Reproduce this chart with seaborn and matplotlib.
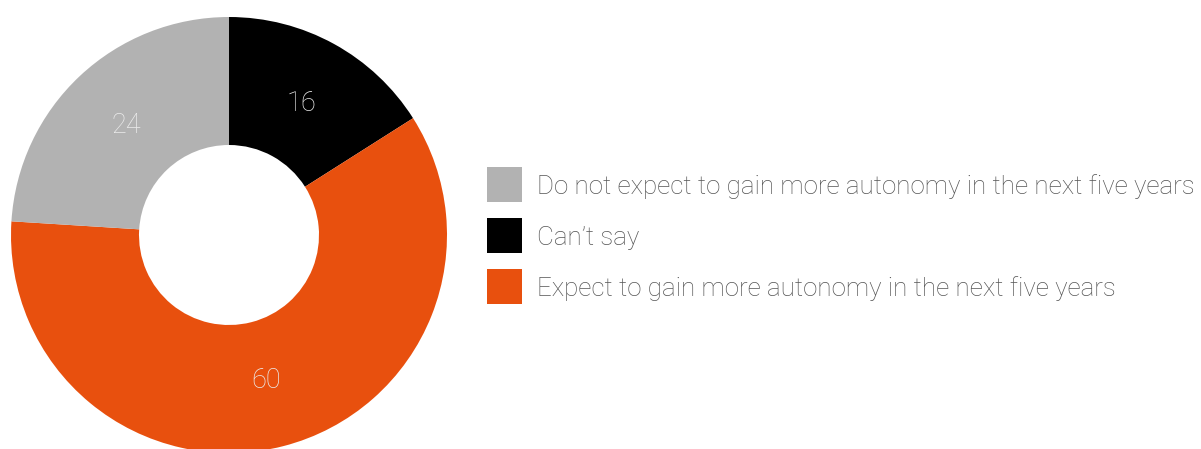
import matplotlib
matplotlib.use("Agg")
import matplotlib.pyplot as plt
from matplotlib.patches import Rectangle
import seaborn as sns

# Survey shares (percent), listed clockwise from 12 o'clock
slice_labels = ["Can\u2019t say",
                "Expect to gain more autonomy in the next five years",
                "Do not expect to gain more autonomy in the next five years"]
slice_values = [16, 60, 24]
slice_colors = ["#000000", "#e8500e", "#b2b2b2"]

# Legend order, top to bottom
legend_order = ["Do not expect to gain more autonomy in the next five years",
                "Can\u2019t say",
                "Expect to gain more autonomy in the next five years"]

sns.set_theme(style="white")
plt.rcParams["font.family"] = ["Roboto", "DejaVu Sans"]

W, H, DPI = 1201, 449, 100
fig = plt.figure(figsize=(W / DPI, H / DPI), dpi=DPI)

# Donut: centre (229, 235) px from top-left, outer radius 218 px, hole radius 90 px
cx, cy, R = 229, 235, 218
ax = fig.add_axes([(cx - R) / W, (H - cy - R) / H, 2 * R / W, 2 * R / H])
wedges, texts, autotexts = ax.pie(
    slice_values,
    colors=slice_colors,
    startangle=90,
    counterclock=False,
    radius=1.0,
    wedgeprops=dict(width=1 - 90 / 218, linewidth=0),
    autopct=lambda p: f"{p:.0f}",
    pctdistance=0.69,
    textprops=dict(color="#ececec", fontsize=19.5, fontweight="light"),
)
ax.set_xlim(-1, 1)
ax.set_ylim(-1, 1)
ax.set_aspect("equal")
ax.axis("off")

# Legend drawn in pixel space on an overlay axes
lax = fig.add_axes([0, 0, 1, 1])
lax.set_xlim(0, W)
lax.set_ylim(H, 0)
lax.axis("off")

color_of = dict(zip(slice_labels, slice_colors))
sq_x, sq_top, sq = 487, 167, 35
row_step = 51
text_x = 537
target_width = 658  # pixel width of the longest legend entry

fig.canvas.draw()
renderer = fig.canvas.get_renderer()
probe = lax.text(0, 0, legend_order[0], fontsize=17, fontweight="light")
w = probe.get_window_extent(renderer).width
probe.remove()
legend_fs = 17 * target_width / w

for i, lab in enumerate(legend_order):
    top = sq_top + i * row_step
    lax.add_patch(Rectangle((sq_x, top), sq, sq, facecolor=color_of[lab],
                            edgecolor="none"))
    lax.text(text_x, top + sq / 2 + 9.5, lab, fontsize=legend_fs,
             fontweight="light", color="#555555", va="baseline", ha="left")

fig.savefig("out.png", dpi=DPI, facecolor="white")
